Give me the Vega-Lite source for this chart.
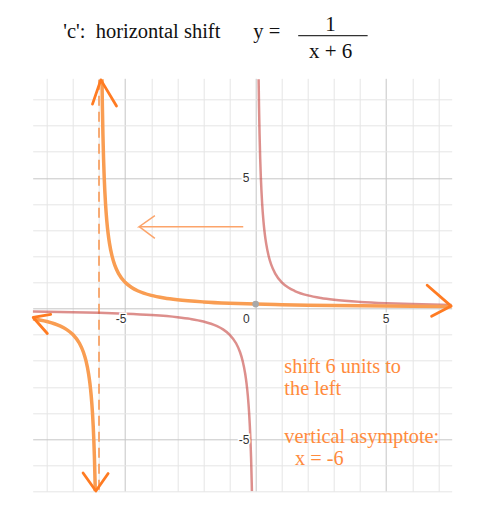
{
  "$schema": "https://vega.github.io/schema/vega-lite/v6.json",
  "autosize": "none",
  "width": 419,
  "height": 413,
  "padding": {"left": 32.7, "top": 78.3, "right": 35.3, "bottom": 14.7},
  "background": "white",
  "config": {"view": {"stroke": null}},
  "datasets": {
    "recip": [
      {"b": "pos", "x": 0.114, "y": 8.77}, {"b": "pos", "x": 0.13, "y": 7.69}, {"b": "pos", "x": 0.15, "y": 6.667},
      {"b": "pos", "x": 0.175, "y": 5.714}, {"b": "pos", "x": 0.2, "y": 5}, {"b": "pos", "x": 0.25, "y": 4},
      {"b": "pos", "x": 0.3, "y": 3.333}, {"b": "pos", "x": 0.35, "y": 2.857}, {"b": "pos", "x": 0.4, "y": 2.5},
      {"b": "pos", "x": 0.5, "y": 2}, {"b": "pos", "x": 0.6, "y": 1.667}, {"b": "pos", "x": 0.75, "y": 1.333},
      {"b": "pos", "x": 1, "y": 1}, {"b": "pos", "x": 1.25, "y": 0.8}, {"b": "pos", "x": 1.5, "y": 0.667},
      {"b": "pos", "x": 2, "y": 0.5}, {"b": "pos", "x": 2.5, "y": 0.4}, {"b": "pos", "x": 3, "y": 0.333},
      {"b": "pos", "x": 4, "y": 0.25}, {"b": "pos", "x": 5, "y": 0.2}, {"b": "pos", "x": 6, "y": 0.167},
      {"b": "pos", "x": 7.51, "y": 0.133},
      {"b": "neg", "x": -8.54, "y": -0.117}, {"b": "neg", "x": -7, "y": -0.143}, {"b": "neg", "x": -6, "y": -0.167},
      {"b": "neg", "x": -5, "y": -0.2}, {"b": "neg", "x": -4, "y": -0.25}, {"b": "neg", "x": -3, "y": -0.333},
      {"b": "neg", "x": -2.5, "y": -0.4}, {"b": "neg", "x": -2, "y": -0.5}, {"b": "neg", "x": -1.5, "y": -0.667},
      {"b": "neg", "x": -1.25, "y": -0.8}, {"b": "neg", "x": -1, "y": -1}, {"b": "neg", "x": -0.75, "y": -1.333},
      {"b": "neg", "x": -0.6, "y": -1.667}, {"b": "neg", "x": -0.5, "y": -2}, {"b": "neg", "x": -0.4, "y": -2.5},
      {"b": "neg", "x": -0.35, "y": -2.857}, {"b": "neg", "x": -0.3, "y": -3.333}, {"b": "neg", "x": -0.25, "y": -4},
      {"b": "neg", "x": -0.2, "y": -5}, {"b": "neg", "x": -0.175, "y": -5.714}, {"b": "neg", "x": -0.15, "y": -6.667},
      {"b": "neg", "x": -0.143, "y": -7}
    ],
    "shifted": [
      {"b": "right", "x": -5.886, "y": 8.77}, {"b": "right", "x": -5.87, "y": 7.69}, {"b": "right", "x": -5.85, "y": 6.667},
      {"b": "right", "x": -5.825, "y": 5.714}, {"b": "right", "x": -5.8, "y": 5}, {"b": "right", "x": -5.75, "y": 4},
      {"b": "right", "x": -5.7, "y": 3.333}, {"b": "right", "x": -5.65, "y": 2.857}, {"b": "right", "x": -5.6, "y": 2.5},
      {"b": "right", "x": -5.5, "y": 2}, {"b": "right", "x": -5.4, "y": 1.667}, {"b": "right", "x": -5.25, "y": 1.333},
      {"b": "right", "x": -5, "y": 1}, {"b": "right", "x": -4.75, "y": 0.8}, {"b": "right", "x": -4.5, "y": 0.667},
      {"b": "right", "x": -4, "y": 0.5}, {"b": "right", "x": -3.5, "y": 0.4}, {"b": "right", "x": -3, "y": 0.333},
      {"b": "right", "x": -2, "y": 0.25}, {"b": "right", "x": -1, "y": 0.2}, {"b": "right", "x": 0, "y": 0.167},
      {"b": "right", "x": 1, "y": 0.143}, {"b": "right", "x": 2, "y": 0.125}, {"b": "right", "x": 3, "y": 0.111},
      {"b": "right", "x": 4, "y": 0.1}, {"b": "right", "x": 5, "y": 0.091}, {"b": "right", "x": 6, "y": 0.083},
      {"b": "right", "x": 7.51, "y": 0.074},
      {"b": "left", "x": -8.54, "y": -0.394}, {"b": "left", "x": -8, "y": -0.5}, {"b": "left", "x": -7.5, "y": -0.667},
      {"b": "left", "x": -7.25, "y": -0.8}, {"b": "left", "x": -7, "y": -1}, {"b": "left", "x": -6.75, "y": -1.333},
      {"b": "left", "x": -6.6, "y": -1.667}, {"b": "left", "x": -6.5, "y": -2}, {"b": "left", "x": -6.4, "y": -2.5},
      {"b": "left", "x": -6.35, "y": -2.857}, {"b": "left", "x": -6.3, "y": -3.333}, {"b": "left", "x": -6.25, "y": -4},
      {"b": "left", "x": -6.2, "y": -5}, {"b": "left", "x": -6.175, "y": -5.714}, {"b": "left", "x": -6.15, "y": -6.667},
      {"b": "left", "x": -6.143, "y": -7}
    ],
    "heads": [
      {"a": "up", "k": 1, "x": -6.25, "y": 7.82}, {"a": "up", "k": 2, "x": -5.93, "y": 8.75}, {"a": "up", "k": 3, "x": -5.33, "y": 7.75},
      {"a": "down", "k": 1, "x": -6.61, "y": -6.3}, {"a": "down", "k": 2, "x": -6.12, "y": -6.99}, {"a": "down", "k": 3, "x": -5.65, "y": -6.32},
      {"a": "left", "k": 1, "x": -7.85, "y": -0.23}, {"a": "left", "k": 2, "x": -8.52, "y": -0.345}, {"a": "left", "k": 3, "x": -7.98, "y": -0.96},
      {"a": "right", "k": 1, "x": 6.57, "y": 0.89}, {"a": "right", "k": 2, "x": 7.49, "y": 0.09}, {"a": "right", "k": 3, "x": 6.74, "y": -0.3}
    ],
    "shiftArrow": [
      {"a": "shaft", "k": 1, "x": -0.475, "y": 3.13}, {"a": "shaft", "k": 2, "x": -4.46, "y": 3.13}, {"a": "shaft", "k": 3, "x": -3.86, "y": 3.55},
      {"a": "barb", "k": 1, "x": -4.46, "y": 3.13}, {"a": "barb", "k": 2, "x": -3.86, "y": 2.68}
    ],
    "asymptote": [{"x": -6, "y": 8.75}, {"x": -6, "y": -6.95}],
    "marker": [{"x": 0, "y": 0.167}],
    "xTicks": [{"t": "-5", "x": -5.15, "y": -0.22}, {"t": "0", "x": -0.36, "y": -0.22}, {"t": "5", "x": 5.0, "y": -0.22}],
    "yTicks": [{"t": "5", "x": -0.24, "y": 5}, {"t": "-5", "x": -0.24, "y": -5.05}],
    "notes": [
      {"t": "shift 6 units to", "x": 1.1, "y": -2.47},
      {"t": "the left", "x": 1.1, "y": -3.3},
      {"t": "vertical asymptote:", "x": 1.1, "y": -5.15},
      {"t": "x = -6", "x": 1.51, "y": -6.0}
    ],
    "heading": [
      {"t": "'c':\u00a0 horizontal shift", "x": -7.37, "y": 10.34},
      {"t": "y =", "x": -0.09, "y": 10.34}
    ],
    "fraction": [
      {"t": "1", "x": 2.87, "y": 10.62},
      {"t": "x + 6", "x": 2.87, "y": 9.58}
    ],
    "fractionBar": [{"x": 1.63, "x2": 4.29, "y": 10.44}]
  },
  "encoding": {
    "x": {
      "field": "x", "type": "quantitative",
      "scale": {"domain": [-8.54, 7.51], "nice": false, "zero": false},
      "axis": {
        "values": [-8, -7, -6, -5, -4, -3, -2, -1, 0, 1, 2, 3, 4, 5, 6, 7],
        "grid": true, "labels": false, "ticks": false, "domain": false, "title": null,
        "gridWidth": 1,
        "gridColor": {"condition": {"test": "datum.value % 5 === 0", "value": "#c6c6c6"}, "value": "#e5e5e5"}
      }
    },
    "y": {
      "field": "y", "type": "quantitative",
      "scale": {"domain": [-7.0, 8.81], "nice": false, "zero": false},
      "axis": {
        "values": [-7, -6, -5, -4, -3, -2, -1, 0, 1, 2, 3, 4, 5, 6, 7, 8],
        "grid": true, "labels": false, "ticks": false, "domain": false, "title": null,
        "gridWidth": 1,
        "gridColor": {"condition": {"test": "datum.value % 5 === 0", "value": "#c6c6c6"}, "value": "#e5e5e5"}
      }
    }
  },
  "layer": [
    {
      "mark": {"type": "rule", "color": "#2b2b2b", "strokeWidth": 1.3},
      "encoding": {"y": {"datum": 0}, "x": null}
    },
    {
      "mark": {"type": "rule", "color": "#2b2b2b", "strokeWidth": 1.3},
      "encoding": {"x": {"datum": 0}, "y": null}
    },
    {
      "data": {"name": "asymptote"},
      "mark": {"type": "line", "color": "#f7a266", "strokeWidth": 1.8, "strokeDash": [10, 6]},
      "encoding": {}
    },
    {
      "data": {"name": "recip"},
      "mark": {"type": "line", "color": "#c74440", "opacity": 0.6, "strokeWidth": 2.5, "interpolate": "monotone", "clip": true},
      "encoding": {"detail": {"field": "b"}}
    },
    {
      "data": {"name": "shifted"},
      "mark": {"type": "line", "color": "#f99d52", "strokeWidth": 3.5, "interpolate": "monotone", "clip": true},
      "encoding": {"detail": {"field": "b"}}
    },
    {
      "data": {"name": "marker"},
      "mark": {"type": "point", "filled": true, "color": "#a8a8a8", "opacity": 1, "size": 45},
      "encoding": {}
    },
    {
      "data": {"name": "heads"},
      "mark": {"type": "line", "color": "#ff7b22", "strokeWidth": 2.8, "strokeCap": "round", "strokeJoin": "round"},
      "encoding": {"detail": {"field": "a"}, "order": {"field": "k"}}
    },
    {
      "data": {"name": "shiftArrow"},
      "mark": {"type": "line", "color": "#fca46a", "strokeWidth": 1.5},
      "encoding": {"detail": {"field": "a"}, "order": {"field": "k"}}
    },
    {
      "data": {"name": "xTicks"},
      "mark": {"type": "text", "font": "Liberation Sans", "fontSize": 12, "align": "center", "baseline": "top", "stroke": "white", "strokeWidth": 3, "color": "white"},
      "encoding": {"text": {"field": "t"}}
    },
    {
      "data": {"name": "xTicks"},
      "mark": {"type": "text", "font": "Liberation Sans", "fontSize": 12, "align": "center", "baseline": "top", "color": "#333333"},
      "encoding": {"text": {"field": "t"}}
    },
    {
      "data": {"name": "yTicks"},
      "mark": {"type": "text", "font": "Liberation Sans", "fontSize": 12, "align": "right", "baseline": "middle", "stroke": "white", "strokeWidth": 3, "color": "white"},
      "encoding": {"text": {"field": "t"}}
    },
    {
      "data": {"name": "yTicks"},
      "mark": {"type": "text", "font": "Liberation Sans", "fontSize": 12, "align": "right", "baseline": "middle", "color": "#333333"},
      "encoding": {"text": {"field": "t"}}
    },
    {
      "data": {"name": "notes"},
      "mark": {"type": "text", "font": "Liberation Serif", "fontSize": 20.3, "align": "left", "baseline": "alphabetic", "color": "#ff8b3d"},
      "encoding": {"text": {"field": "t"}}
    },
    {
      "data": {"name": "heading"},
      "mark": {"type": "text", "font": "Liberation Serif", "fontSize": 20.5, "align": "left", "baseline": "alphabetic", "color": "#111111"},
      "encoding": {"text": {"field": "t"}}
    },
    {
      "data": {"name": "fraction"},
      "mark": {"type": "text", "font": "Liberation Serif", "fontSize": 21, "align": "center", "baseline": "alphabetic", "color": "#111111"},
      "encoding": {"text": {"field": "t"}}
    },
    {
      "data": {"name": "fractionBar"},
      "mark": {"type": "rule", "color": "#333333", "strokeWidth": 1.2},
      "encoding": {"x2": {"field": "x2"}}
    }
  ]
}
